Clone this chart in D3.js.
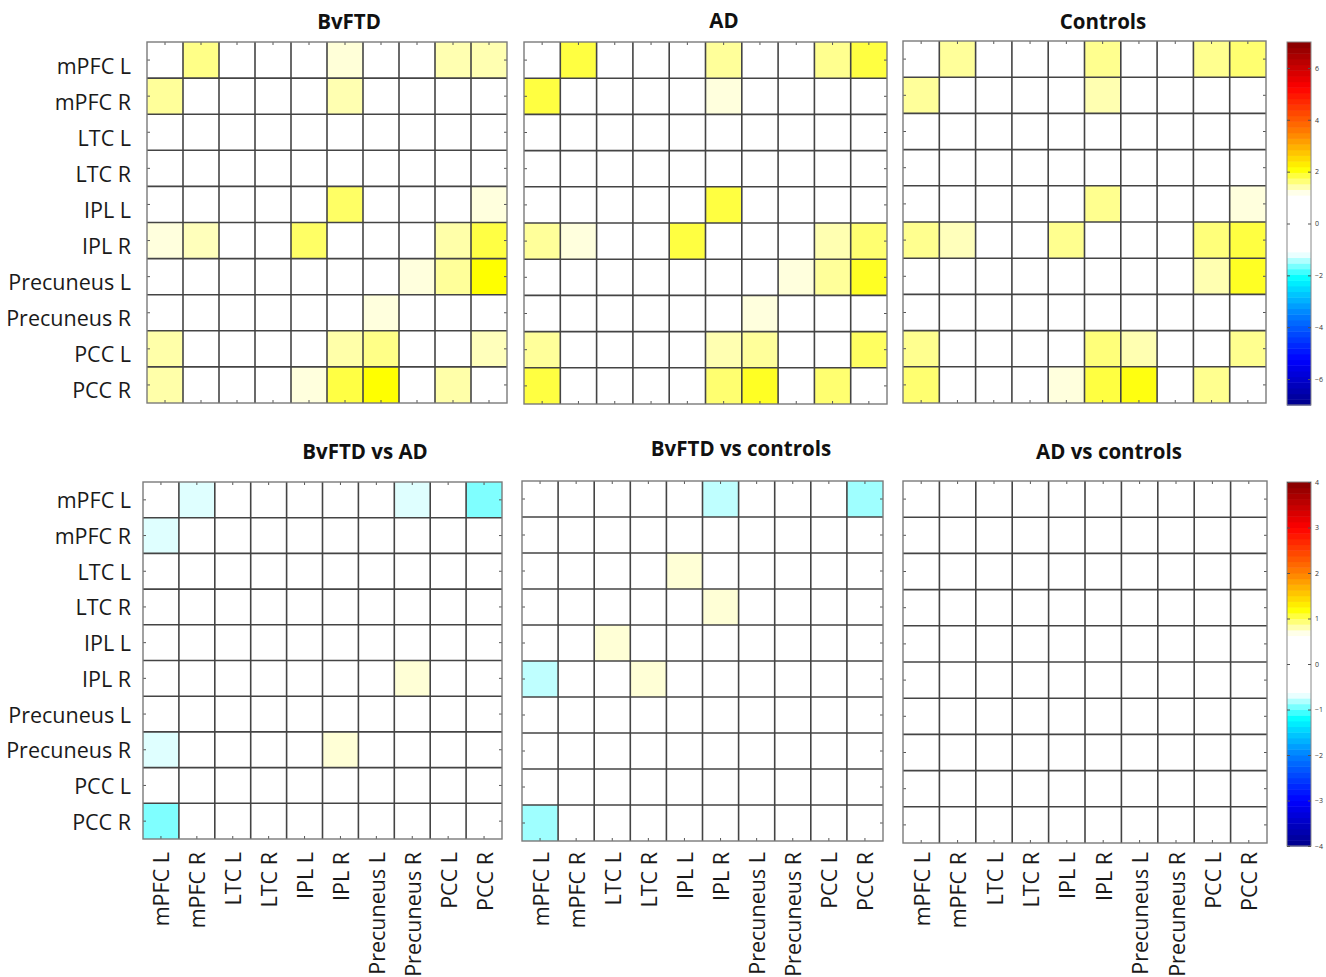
<!DOCTYPE html>
<html>
<head>
<meta charset="utf-8">
<script src="https://cdn.jsdelivr.net/npm/d3@7"></script>
<style>
  body { margin: 0; background: #fff; }
  svg { display: block; }
  text { font-family: "Open Sans", "Noto Sans", sans-serif; }
</style>
</head>
<body>
<svg id="fig" width="1326" height="977"></svg>
<script>
// Regions of interest (rows and columns of every matrix)
const regions = ["mPFC L", "mPFC R", "LTC L", "LTC R", "IPL L", "IPL R",
                 "Precuneus L", "Precuneus R", "PCC L", "PCC R"];

const groupTitles = ["BvFTD", "AD", "Controls"];
const contrastTitles = ["BvFTD vs AD", "BvFTD vs controls", "AD vs controls"];

// Colour bar ranges and tick labels
const groupLimit = 7;
const groupTicks = [-6, -4, -2, 0, 2, 4, 6];
const contrastLimit = 4;
const contrastTicks = [-4, -3, -2, -1, 0, 1, 2, 3, 4];

// Connectivity strength within each group (rows x columns follow `regions`)
const bvftd = [
  [0,    1.58, 0, 0, 0,    1.27, 0,    0,    1.42, 1.42],
  [1.51, 0,    0, 0, 0,    1.42, 0,    0,    0,    0   ],
  [0,    0,    0, 0, 0,    0,    0,    0,    0,    0   ],
  [0,    0,    0, 0, 0,    0,    0,    0,    0,    0   ],
  [0,    0,    0, 0, 0,    1.71, 0,    0,    0,    1.25],
  [1.25, 1.38, 0, 0, 1.71, 0,    0,    0,    1.45, 1.84],
  [0,    0,    0, 0, 0,    0,    0,    1.25, 1.51, 2.10],
  [0,    0,    0, 0, 0,    0,    1.25, 0,    0,    0   ],
  [1.45, 0,    0, 0, 0,    1.45, 1.58, 0,    0,    1.38],
  [1.45, 0,    0, 0, 1.25, 1.84, 2.10, 0,    1.45, 0   ]
];

const ad = [
  [0,    1.85, 0, 0, 0,    1.51, 0,    0,    1.55, 1.85],
  [1.85, 0,    0, 0, 0,    1.25, 0,    0,    0,    0   ],
  [0,    0,    0, 0, 0,    0,    0,    0,    0,    0   ],
  [0,    0,    0, 0, 0,    0,    0,    0,    0,    0   ],
  [0,    0,    0, 0, 0,    1.85, 0,    0,    0,    0   ],
  [1.51, 1.25, 0, 0, 1.85, 0,    0,    0,    1.42, 1.67],
  [0,    0,    0, 0, 0,    0,    0,    1.25, 1.51, 1.96],
  [0,    0,    0, 0, 0,    0,    1.25, 0,    0,    0   ],
  [1.51, 0,    0, 0, 0,    1.42, 1.51, 0,    0,    1.73],
  [1.85, 0,    0, 0, 0,    1.67, 1.96, 0,    1.67, 0   ]
];

const controls = [
  [0,    1.51, 0, 0, 0,    1.55, 0,    0,    1.55, 1.67],
  [1.51, 0,    0, 0, 0,    1.42, 0,    0,    0,    0   ],
  [0,    0,    0, 0, 0,    0,    0,    0,    0,    0   ],
  [0,    0,    0, 0, 0,    0,    0,    0,    0,    0   ],
  [0,    0,    0, 0, 0,    1.55, 0,    0,    0,    1.25],
  [1.55, 1.38, 0, 0, 1.55, 0,    0,    0,    1.63, 1.85],
  [0,    0,    0, 0, 0,    0,    0,    0,    1.42, 1.96],
  [0,    0,    0, 0, 0,    0,    0,    0,    0,    0   ],
  [1.55, 0,    0, 0, 0,    1.63, 1.42, 0,    0,    1.55],
  [1.67, 0,    0, 0, 1.25, 1.85, 2.04, 0,    1.55, 0   ]
];

// Between-group differences
const bvftdVsAd = [
  [0,     -0.71, 0, 0, 0, 0,    0, -0.71, 0, -0.92],
  [-0.71, 0,     0, 0, 0, 0,    0, 0,     0, 0    ],
  [0,     0,     0, 0, 0, 0,    0, 0,     0, 0    ],
  [0,     0,     0, 0, 0, 0,    0, 0,     0, 0    ],
  [0,     0,     0, 0, 0, 0,    0, 0,     0, 0    ],
  [0,     0,     0, 0, 0, 0,    0, 0.73,  0, 0    ],
  [0,     0,     0, 0, 0, 0,    0, 0,     0, 0    ],
  [-0.71, 0,     0, 0, 0, 0.73, 0, 0,     0, 0    ],
  [0,     0,     0, 0, 0, 0,    0, 0,     0, 0    ],
  [-0.92, 0,     0, 0, 0, 0,    0, 0,     0, 0    ]
];

const bvftdVsControls = [
  [0,     0, 0,    0,    0,    -0.78, 0, 0, 0, -0.85],
  [0,     0, 0,    0,    0,    0,     0, 0, 0, 0    ],
  [0,     0, 0,    0,    0.73, 0,     0, 0, 0, 0    ],
  [0,     0, 0,    0,    0,    0.73,  0, 0, 0, 0    ],
  [0,     0, 0.73, 0,    0,    0,     0, 0, 0, 0    ],
  [-0.78, 0, 0,    0.73, 0,    0,     0, 0, 0, 0    ],
  [0,     0, 0,    0,    0,    0,     0, 0, 0, 0    ],
  [0,     0, 0,    0,    0,    0,     0, 0, 0, 0    ],
  [0,     0, 0,    0,    0,    0,     0, 0, 0, 0    ],
  [-0.85, 0, 0,    0,    0,    0,     0, 0, 0, 0    ]
];

const adVsControls = regions.map(() => regions.map(() => 0));

// Jet-like diverging map with a white band around zero (positions as fraction of the limit)
const cmapStops = [-1, -0.75, -0.5, -0.3, -0.16, 0.16, 0.3, 0.5, 0.75, 1];
const cmapColors = ["#00008a", "#0000ff", "#0080ff", "#00ffff", "#ffffff",
                    "#ffffff", "#ffff00", "#ff8000", "#ff0000", "#840000"];

function makeColor(limit) {
  return d3.scaleLinear()
    .domain(cmapStops.map(s => s * limit))
    .range(cmapColors)
    .interpolate(d3.interpolateRgb)
    .clamp(true);
}

const svg = d3.select("#fig");
const labelSize = 21.5;
const titleSize = 20.5;

// Panel layout
const panels = [
  { m: bvftd, title: groupTitles[0], limit: groupLimit, x0: 147, x1: 507, y0: 42, y1: 403, tx: 349, ty: 29, ylab: true, ylabX: 131, ylabDy: 5 },
  { m: ad, title: groupTitles[1], limit: groupLimit, x0: 524, x1: 887, y0: 42, y1: 404, tx: 724, ty: 28 },
  { m: controls, title: groupTitles[2], limit: groupLimit, x0: 903, x1: 1266, y0: 41, y1: 403, tx: 1103, ty: 29 },
  { m: bvftdVsAd, title: contrastTitles[0], limit: contrastLimit, x0: 143, x1: 502, y0: 482, y1: 839, tx: 365, ty: 459, ylab: true, ylabX: 131, ylabDy: 0, xlab: true },
  { m: bvftdVsControls, title: contrastTitles[1], limit: contrastLimit, x0: 522, x1: 883, y0: 481, y1: 841, tx: 741, ty: 456, xlab: true },
  { m: adVsControls, title: contrastTitles[2], limit: contrastLimit, x0: 903, x1: 1267, y0: 481, y1: 843, tx: 1109, ty: 459, xlab: true }
];

panels.forEach(p => {
  const color = makeColor(p.limit);
  const x = d3.scaleBand().domain(d3.range(regions.length)).range([p.x0, p.x1]);
  const y = d3.scaleBand().domain(d3.range(regions.length)).range([p.y0, p.y1]);
  const g = svg.append("g");

  const cells = [];
  p.m.forEach((row, i) => row.forEach((v, j) => cells.push({ i, j, v })));

  g.selectAll("rect.cell").data(cells).join("rect")
    .attr("class", "cell")
    .attr("x", d => x(d.j))
    .attr("y", d => y(d.i))
    .attr("width", x.bandwidth())
    .attr("height", y.bandwidth())
    .attr("fill", d => color(d.v));

  // cell grid
  const edges = d3.range(regions.length + 1);
  const xe = k => k < regions.length ? x(k) : p.x1;
  const ye = k => k < regions.length ? y(k) : p.y1;
  g.selectAll("line.v").data(edges.slice(1, -1)).join("line")
    .attr("x1", xe).attr("x2", xe).attr("y1", p.y0).attr("y2", p.y1)
    .attr("stroke", "#444").attr("stroke-width", 1.6);
  g.selectAll("line.h").data(edges.slice(1, -1)).join("line")
    .attr("y1", ye).attr("y2", ye).attr("x1", p.x0).attr("x2", p.x1)
    .attr("stroke", "#444").attr("stroke-width", 1.6);

  // inward ticks on all four sides
  const tickStyle = sel => {
    sel.select(".domain").remove();
    sel.selectAll(".tick line").attr("stroke", "#555").attr("stroke-width", 1);
  };
  g.append("g").attr("transform", `translate(0,${p.y0})`)
    .call(d3.axisTop(x).tickSize(-3).tickFormat("")).call(tickStyle);
  g.append("g").attr("transform", `translate(0,${p.y1})`)
    .call(d3.axisBottom(x).tickSize(-3).tickFormat("")).call(tickStyle);
  g.append("g").attr("transform", `translate(${p.x0},0)`)
    .call(d3.axisLeft(y).tickSize(-3).tickFormat("")).call(tickStyle);
  g.append("g").attr("transform", `translate(${p.x1},0)`)
    .call(d3.axisRight(y).tickSize(-3).tickFormat("")).call(tickStyle);

  g.append("rect")
    .attr("x", p.x0).attr("y", p.y0)
    .attr("width", p.x1 - p.x0).attr("height", p.y1 - p.y0)
    .attr("fill", "none").attr("stroke", "#7a7a7a").attr("stroke-width", 1.4);

  // title
  svg.append("text")
    .attr("x", p.tx).attr("y", p.ty)
    .attr("text-anchor", "middle")
    .attr("font-size", titleSize).attr("font-weight", 700)
    .attr("fill", "#111")
    .text(p.title);

  if (p.ylab) {
    svg.append("g").selectAll("text").data(regions).join("text")
      .attr("x", p.ylabX)
      .attr("y", (d, i) => y(i) + y.bandwidth() / 2 + p.ylabDy)
      .attr("text-anchor", "end")
      .attr("dominant-baseline", "central")
      .attr("font-size", labelSize)
      .attr("fill", "#1a1a1a")
      .text(d => d);
  }
  if (p.xlab) {
    svg.append("g").selectAll("text").data(regions).join("text")
      .attr("transform", (d, i) => `translate(${x(i) + x.bandwidth() / 2},852) rotate(-90)`)
      .attr("text-anchor", "end")
      .attr("dominant-baseline", "central")
      .attr("font-size", labelSize)
      .attr("fill", "#1a1a1a")
      .text(d => d);
  }
});

// Colour bars
const bars = [
  { limit: groupLimit, ticks: groupTicks, x0: 1287, x1: 1311, y0: 42, y1: 405 },
  { limit: contrastLimit, ticks: contrastTicks, x0: 1287, x1: 1311, y0: 482, y1: 846 }
];
const nBands = 64;
bars.forEach(b => {
  const color = makeColor(b.limit);
  const s = d3.scaleLinear().domain([-b.limit, b.limit]).range([b.y1, b.y0]);
  const step = 2 * b.limit / nBands;
  const bandVals = d3.range(nBands).map(k => -b.limit + (k + 0.5) * step);
  const g = svg.append("g");
  g.selectAll("rect").data(bandVals).join("rect")
    .attr("x", b.x0)
    .attr("width", b.x1 - b.x0)
    .attr("y", v => s(v + step / 2))
    .attr("height", v => s(v - step / 2) - s(v + step / 2) + 0.5)
    .attr("fill", v => color(v));
  g.append("rect")
    .attr("x", b.x0).attr("y", b.y0)
    .attr("width", b.x1 - b.x0).attr("height", b.y1 - b.y0)
    .attr("fill", "none").attr("stroke", "#888").attr("stroke-width", 1);
  const right = g.append("g").attr("transform", `translate(${b.x1},0)`)
    .call(d3.axisRight(s).tickValues(b.ticks).tickSize(-3).tickPadding(4).tickFormat(d3.format("d")));
  right.select(".domain").remove();
  right.selectAll(".tick line").attr("stroke", "#555");
  right.selectAll(".tick text").attr("font-size", 7).attr("fill", "#333")
    .attr("font-family", "'Open Sans', sans-serif");
  const left = g.append("g").attr("transform", `translate(${b.x0},0)`)
    .call(d3.axisLeft(s).tickValues(b.ticks).tickSize(-3).tickFormat(""));
  left.select(".domain").remove();
  left.selectAll(".tick line").attr("stroke", "#555");
});
</script>
</body>
</html>
